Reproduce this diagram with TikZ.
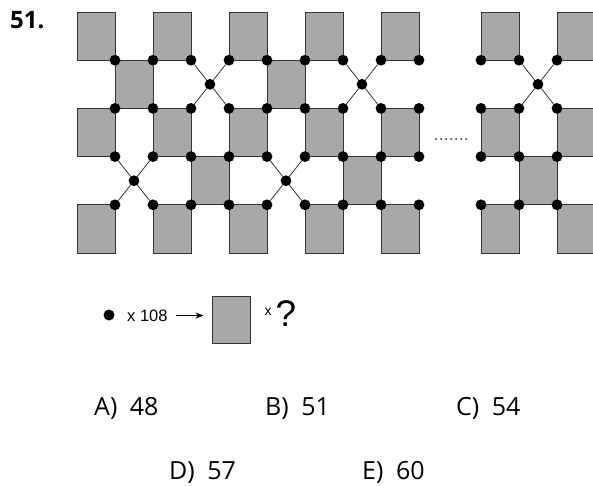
\documentclass[tikz,border=0pt]{standalone}
\usepackage{fontspec}
\setmainfont{Open Sans}
\newfontfamily\arialf{Liberation Sans}
\usetikzlibrary{arrows.meta}
\definecolor{cellgray}{HTML}{A8A8A8}
\definecolor{edgegray}{HTML}{333333}
\tikzset{
  cell/.style={fill=cellgray, draw=edgegray, line width=0.9pt},
  dotnode/.style={circle, fill=black, inner sep=0pt, minimum size=10.8pt},
  link/.style={draw=edgegray, line width=0.8pt},
  ans/.style={anchor=base west, inner sep=0pt, font=\fontsize{25}{30}\selectfont},
  legendtxt/.style={inner sep=0pt, font=\arialf\fontsize{16.5}{20}\selectfont},
}
\begin{document}
\begin{tikzpicture}[x=1pt,y=-1pt]
\useasboundingbox (0,0) rectangle (593,486);
\clip (0,0) rectangle (593,486);
\fill[white] (0,0) rectangle (593,486);

% question number
\node[anchor=base west, inner sep=0pt, font=\bfseries\fontsize{24}{28}\selectfont] (num) at (10,29) {51.};

% left grid cells
\foreach \c/\r in {0/0,2/0,4/0,6/0,8/0,1/1,5/1,0/2,2/2,4/2,6/2,8/2,3/3,7/3,0/4,2/4,4/4,6/4,8/4}
  \draw[cell] ({77+38*\c},{12+48.2*\r}) rectangle ++(38,48.2);

% right grid cells
\foreach \xx/\r in {481/0,557/0,481/2,557/2,519/3,481/4,557/4}
  \draw[cell] (\xx,{12+48.2*\r}) rectangle ++(38,48.2);

% left dots
\foreach \i in {1,...,9}
  \foreach \j in {1,...,4}
    \node[dotnode] (d-\i-\j) at ({77+38*\i},{12+48.2*\j}) {};

% right dots
\foreach \i/\xx in {1/481,2/519,3/557}
  \foreach \j in {1,...,4}
    \node[dotnode] (r-\i-\j) at (\xx,{12+48.2*\j}) {};

% crossing centres
\node[dotnode] (xa) at (210,84.3) {};
\node[dotnode] (xb) at (362,84.3) {};
\node[dotnode] (xc) at (134,180.7) {};
\node[dotnode] (xd) at (286,180.7) {};
\node[dotnode] (xe) at (538,84.3) {};

% crossing links
\draw[link] (d-3-1) -- (xa); \draw[link] (xa) -- (d-4-2);
\draw[link] (d-4-1) -- (xa); \draw[link] (xa) -- (d-3-2);
\draw[link] (d-7-1) -- (xb); \draw[link] (xb) -- (d-8-2);
\draw[link] (d-8-1) -- (xb); \draw[link] (xb) -- (d-7-2);
\draw[link] (d-1-3) -- (xc); \draw[link] (xc) -- (d-2-4);
\draw[link] (d-2-3) -- (xc); \draw[link] (xc) -- (d-1-4);
\draw[link] (d-5-3) -- (xd); \draw[link] (xd) -- (d-6-4);
\draw[link] (d-6-3) -- (xd); \draw[link] (xd) -- (d-5-4);
\draw[link] (r-2-1) -- (xe); \draw[link] (xe) -- (r-3-2);
\draw[link] (r-3-1) -- (xe); \draw[link] (xe) -- (r-2-2);

% ellipsis
\foreach \k in {0,...,6}
  \fill[black!85] ({436+5*\k},139) circle (1.0);

% legend
\node[dotnode, minimum size=11pt] (ldot) at (109,315) {};
\node[legendtxt, anchor=west] (lcount) at (127,315.5) {x 108};
\node[cell, minimum width=38pt, minimum height=47pt, inner sep=0pt] (lsq) at (231,319.5) {};
\draw[-{Stealth[length=8pt,width=6pt]}, line width=1pt, shorten <=8pt, shorten >=8pt]
  (lcount.east) -- (lcount.east -| lsq.west);
\node[inner sep=0pt, font=\arialf\fontsize{14}{16}\selectfont] (lx) at (268,312) {x};
\node[inner sep=0pt, font=\arialf\fontsize{37}{40}\selectfont] (lq) at (286,314) {?};

% answers
\node[ans] (a) at (94,415) {A)\hspace{0.5em}48};
\node[ans] (b) at (265,415) {B)\hspace{0.5em}51};
\node[ans] (c) at (456,415) {C)\hspace{0.5em}54};
\node[ans] (d) at (169,479) {D)\hspace{0.5em}57};
\node[ans] (e) at (362,479) {E)\hspace{0.5em}60};
\end{tikzpicture}
\end{document}
